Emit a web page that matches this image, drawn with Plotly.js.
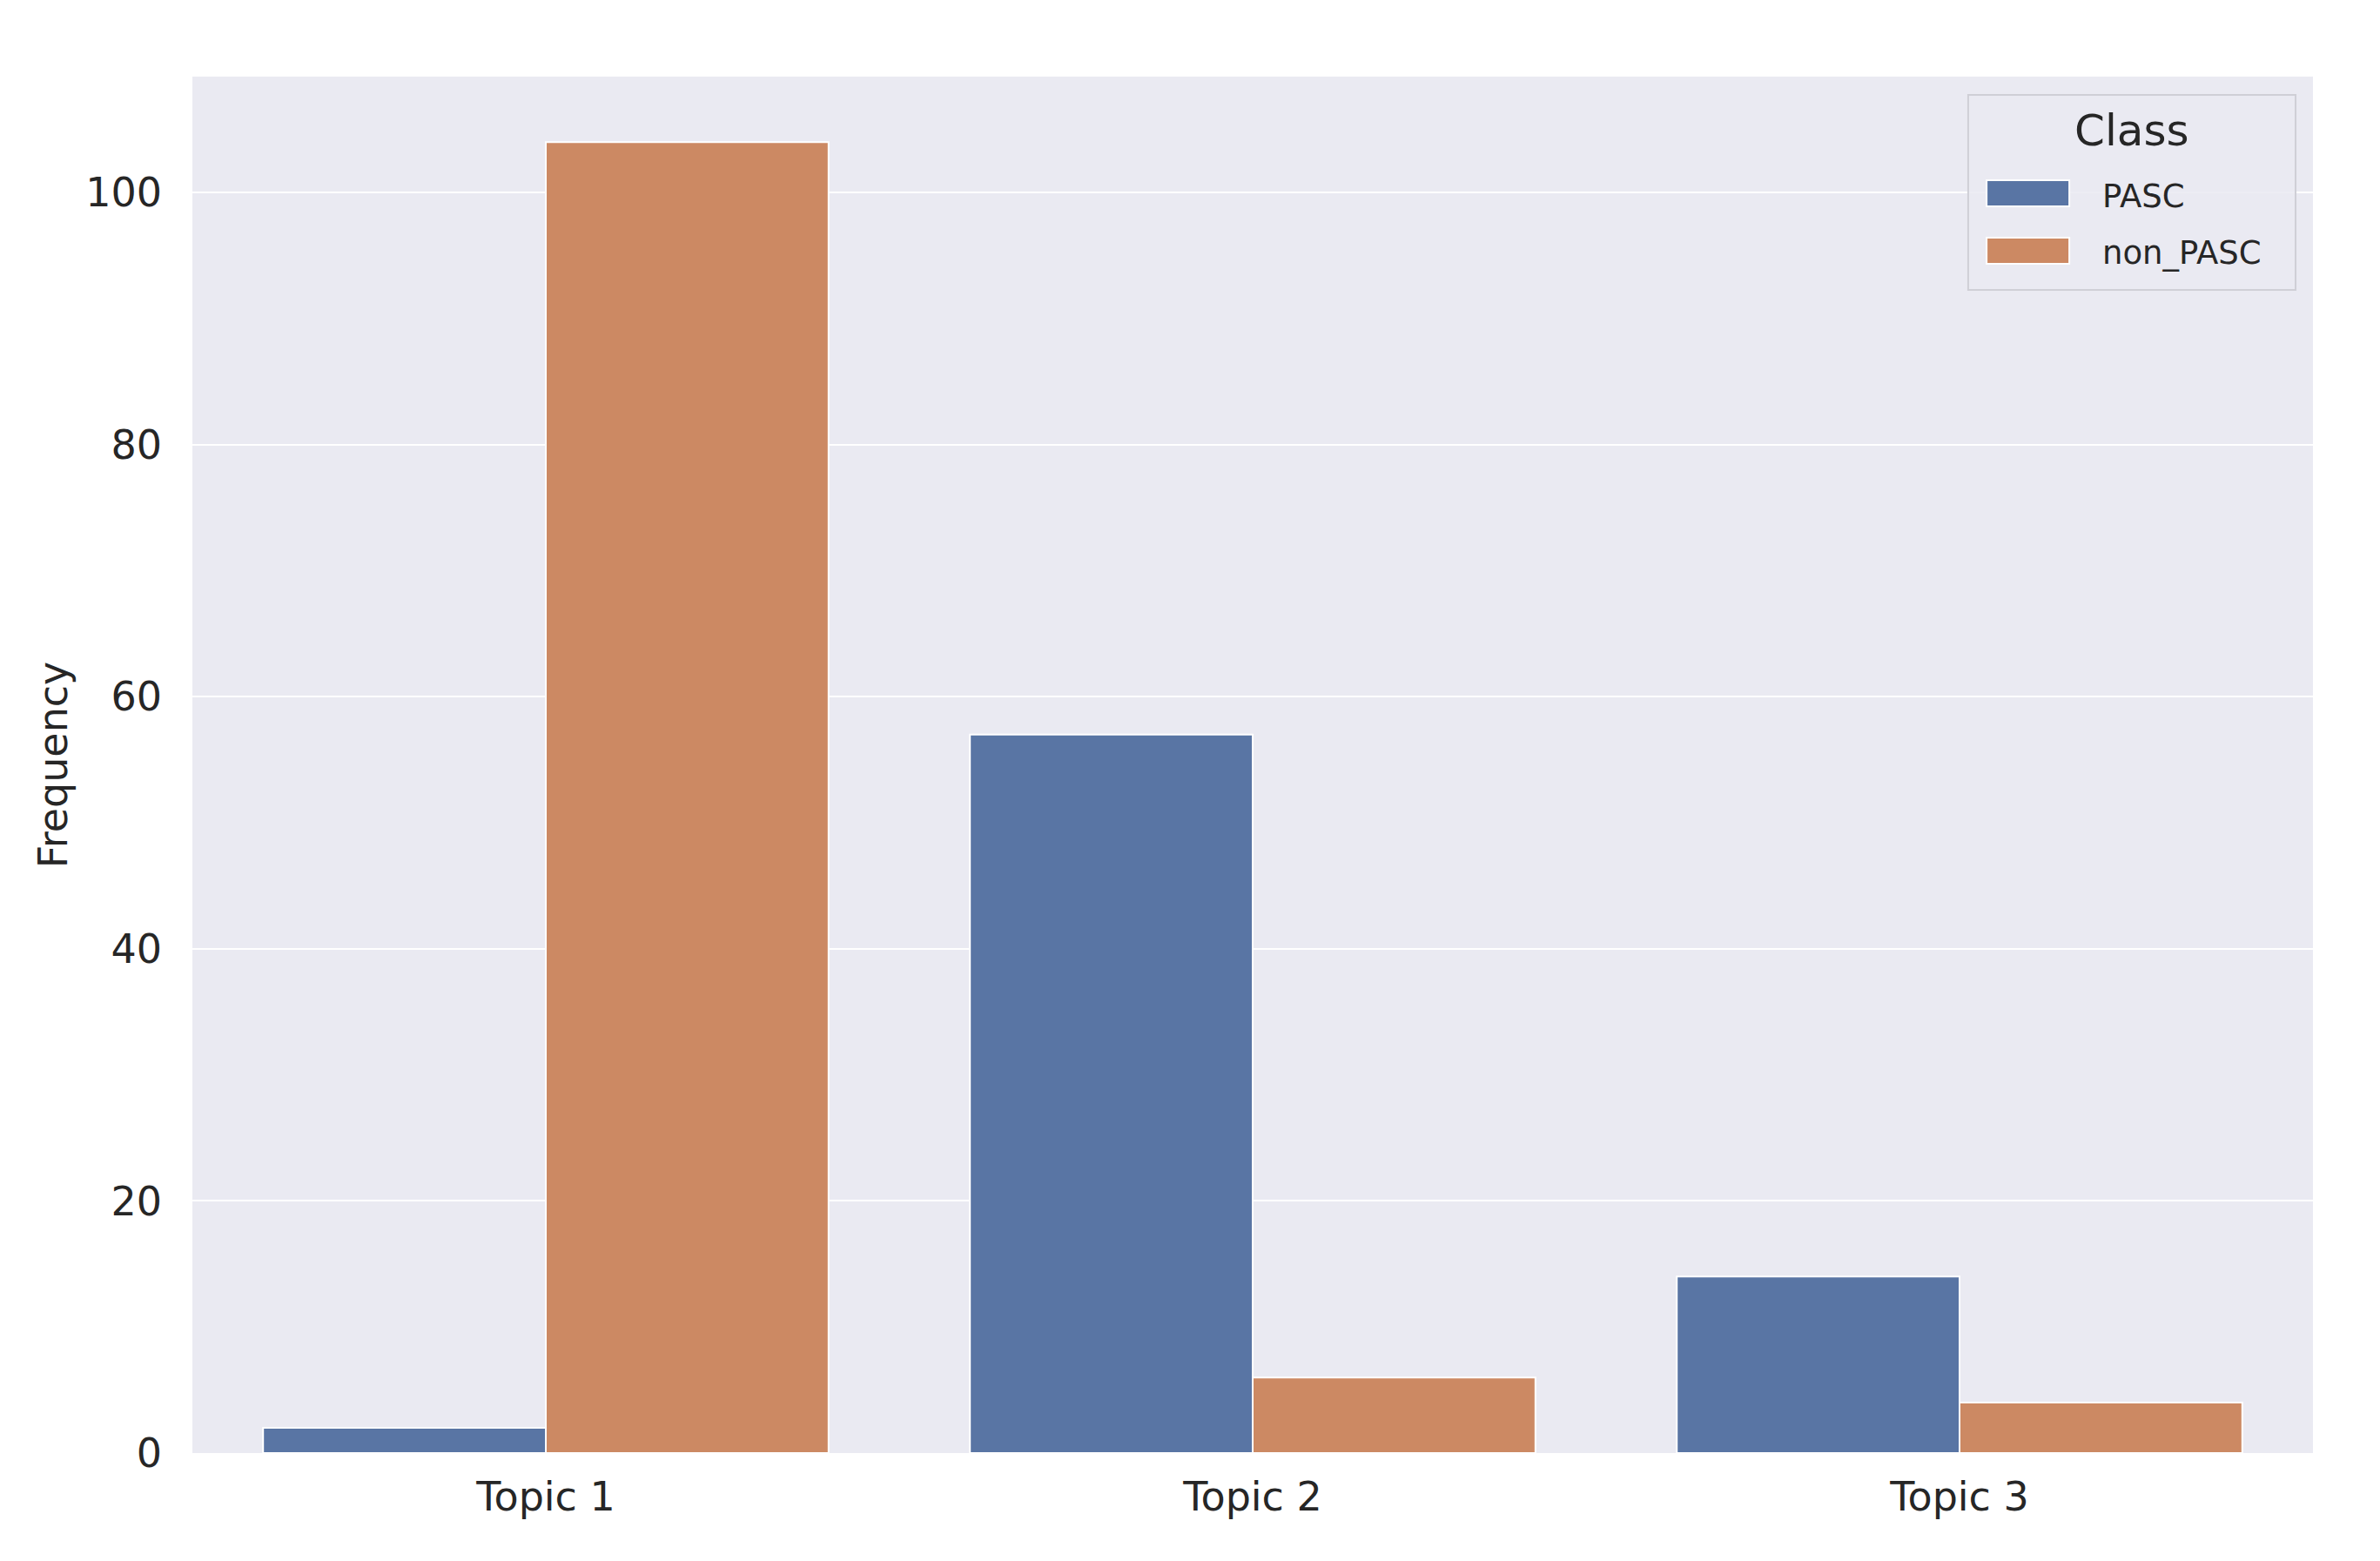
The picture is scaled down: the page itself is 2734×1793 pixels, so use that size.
<!DOCTYPE html>
<html>
<head>
<meta charset="utf-8">
<script src="https://cdn.plot.ly/plotly-3.0.1.min.js"></script>
<style>html,body{margin:0;padding:0;background:#fff;}#chart{width:2734px;height:1793px;}</style>
</head>
<body>
<div id="chart"></div>
<script>
const categories = ["Topic 1", "Topic 2", "Topic 3"];
const seriesNames = ["PASC", "non_PASC"];
const pascValues = [2, 57, 14];
const nonPascValues = [104, 6, 4];
const yTicks = [0, 20, 40, 60, 80, 100];
const legendTitle = "Class";
const yLabel = "Frequency";

const colors = ["#5975a4", "#cc8963"];
const font = "DejaVu Sans, sans-serif";
const textColor = "#262626";

const traces = [pascValues, nonPascValues].map((vals, i) => ({
  type: "bar",
  name: seriesNames[i],
  x: categories,
  y: vals,
  marker: {color: colors[i], line: {color: "#ffffff", width: 2}},
  showlegend: false,
  hoverinfo: "skip"
}));

// manual legend (paper coordinates)
const swY = [[0.9058, 0.9247], [0.8640, 0.8830]];
const txtY = [0.9133, 0.8722];
const shapes = [{
  type: "rect", xref: "paper", yref: "paper",
  x0: 0.8374, x1: 0.9918, y0: 0.8450, y1: 0.9867,
  fillcolor: "rgba(234,234,242,0.85)", line: {color: "#cfcfd6", width: 2}, layer: "above"
}];
const annotations = [{
  xref: "paper", yref: "paper", x: 0.9146, y: 0.9608, text: legendTitle,
  showarrow: false, xanchor: "center", yanchor: "middle",
  font: {family: font, size: 50, color: textColor}
}];
seriesNames.forEach((n, i) => {
  shapes.push({
    type: "rect", xref: "paper", yref: "paper",
    x0: 0.8461, x1: 0.8851, y0: swY[i][0], y1: swY[i][1],
    fillcolor: colors[i], line: {color: "#ffffff", width: 2}, layer: "above"
  });
  annotations.push({
    xref: "paper", yref: "paper", x: 0.9000, y: txtY[i], text: n,
    showarrow: false, xanchor: "left", yanchor: "middle",
    font: {family: font, size: 37, color: textColor}
  });
});

const layout = {
  width: 2734, height: 1793,
  margin: {l: 221, r: 77, t: 88, b: 124, pad: 0},
  paper_bgcolor: "#ffffff",
  plot_bgcolor: "#eaeaf2",
  barmode: "group",
  bargap: 0.2,
  bargroupgap: 0,
  font: {family: font, color: textColor},
  xaxis: {
    type: "category",
    range: [-0.5, 2.5],
    showgrid: false, zeroline: false, showline: false,
    ticks: "", ticklabelstandoff: 19,
    tickfont: {family: font, size: 46, color: textColor}
  },
  yaxis: {
    range: [0, 109.2],
    tickvals: yTicks,
    ticktext: yTicks.map(String),
    showgrid: true, gridcolor: "#ffffff", gridwidth: 2,
    zeroline: false, showline: false,
    ticks: "", ticklabelstandoff: 34,
    tickfont: {family: font, size: 46, color: textColor},
    title: {text: yLabel, standoff: 6, font: {family: font, size: 46, color: textColor}}
  },
  shapes: shapes,
  annotations: annotations
};

Plotly.newPlot("chart", traces, layout, {staticPlot: true, displayModeBar: false});
</script>
</body>
</html>
